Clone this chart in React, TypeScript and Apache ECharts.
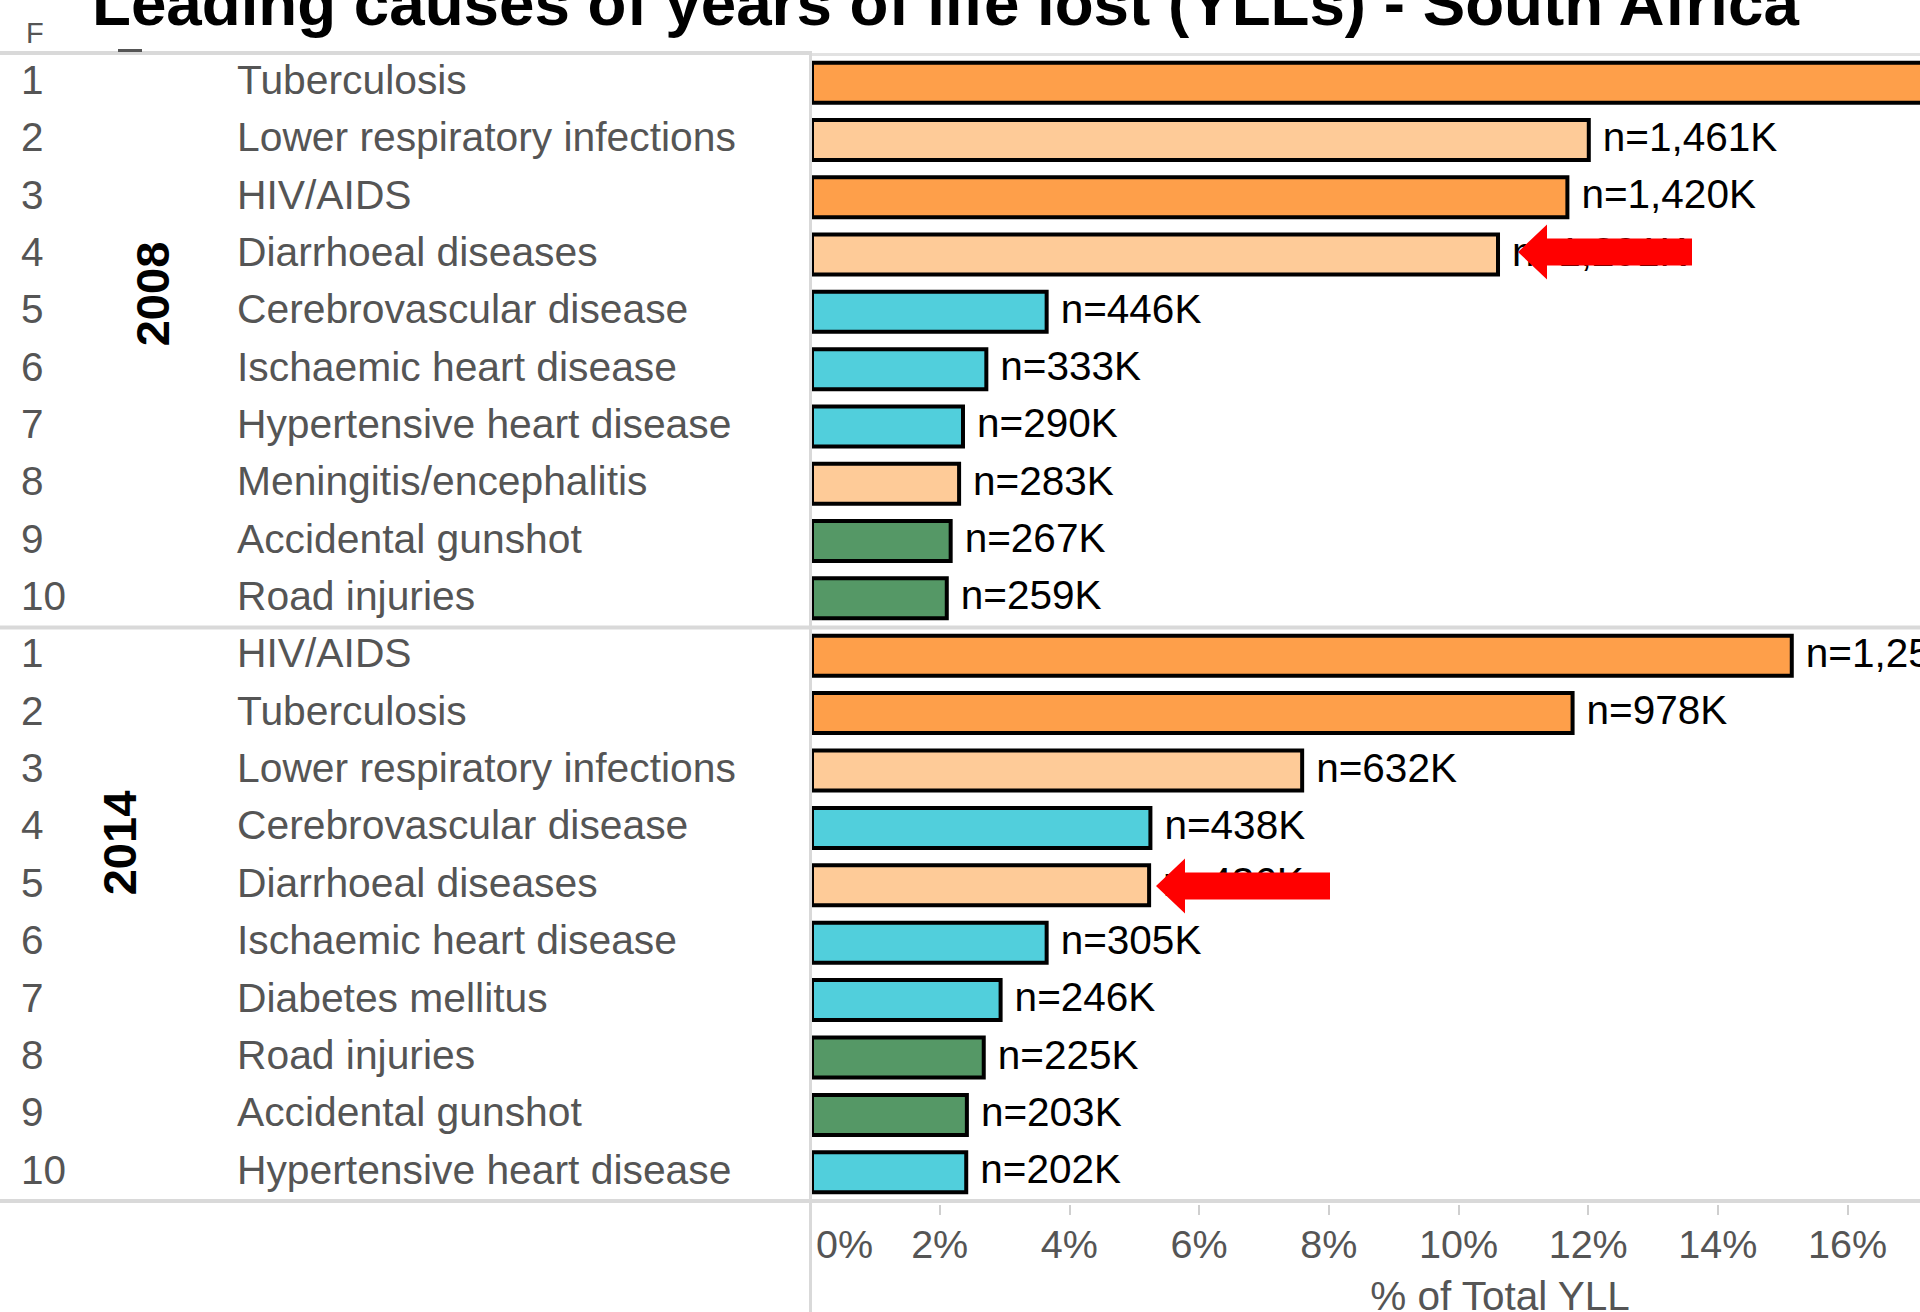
import React, { useEffect, useRef } from "react";
import * as echarts from "echarts";

const titleText = "Leading causes of years of life lost (YLLs) - South Africa";
const ranks = ["1", "2", "3", "4", "5", "6", "7", "8", "9", "10"];

const causes2008 = [
  "Tuberculosis",
  "Lower respiratory infections",
  "HIV/AIDS",
  "Diarrhoeal diseases",
  "Cerebrovascular disease",
  "Ischaemic heart disease",
  "Hypertensive heart disease",
  "Meningitis/encephalitis",
  "Accidental gunshot",
  "Road injuries",
];
const pct2008 = [18.9, 12.04, 11.71, 10.64, 3.68, 2.75, 2.39, 2.33, 2.2, 2.14];
const n2008 = ["n=2,293K", "n=1,461K", "n=1,420K", "n=1,291K", "n=446K", "n=333K", "n=290K", "n=283K", "n=267K", "n=259K"];

const causes2014 = [
  "HIV/AIDS",
  "Tuberculosis",
  "Lower respiratory infections",
  "Cerebrovascular disease",
  "Diarrhoeal diseases",
  "Ischaemic heart disease",
  "Diabetes mellitus",
  "Road injuries",
  "Accidental gunshot",
  "Hypertensive heart disease",
];
const pct2014 = [15.17, 11.79, 7.62, 5.28, 5.26, 3.68, 2.97, 2.71, 2.45, 2.44];
const n2014 = ["n=1,258K", "n=978K", "n=632K", "n=438K", "n=436K", "n=305K", "n=246K", "n=225K", "n=203K", "n=202K"];

const years = ["2008", "2014"];
const axisName = "% of Total YLL";

const darkOrangeCauses = ["Tuberculosis", "HIV/AIDS"];
const lightOrangeCauses = ["Lower respiratory infections", "Diarrhoeal diseases", "Meningitis/encephalitis"];
const greenCauses = ["Accidental gunshot", "Road injuries"];

const DARK_ORANGE = "#FE9F4A";
const LIGHT_ORANGE = "#FECB98";
const CYAN = "#51CFDC";
const GREEN = "#559866";

const colorOf = (c: string) =>
  darkOrangeCauses.includes(c)
    ? DARK_ORANGE
    : lightOrangeCauses.includes(c)
    ? LIGHT_ORANGE
    : greenCauses.includes(c)
    ? GREEN
    : CYAN;

export default function App() {
  const ref = useRef<HTMLDivElement>(null);

  useEffect(() => {
    const chart = echarts.init(ref.current!, null, { renderer: "svg" });
    const font = "'Liberation Sans', Arial, sans-serif";
    const AX_MAX = 21.28;
    const PX_PER_PCT = 64.85;
    const gridLeft = 810;
    const gridWidth = AX_MAX * PX_PER_PCT;

    const yAxisFor = (gridIndex: number, data: string[]) => ({
      type: "category",
      gridIndex,
      data,
      inverse: true,
      axisLine: { show: false },
      axisTick: { show: false },
      axisLabel: {
        interval: 0,
        align: "left",
        margin: 789,
        padding: [0, 0, 5, 0],
        formatter: (v: string, i: number) => `{r|${ranks[i]}}{n|${v}}`,
        rich: {
          r: { width: 216, fontSize: 40.5, color: "#555555", fontFamily: font },
          n: { fontSize: 40.8, color: "#555555", fontFamily: font },
        },
      },
    });

    const seriesFor = (idx: number, causes: string[], vals: number[], labels: string[]) => ({
      type: "bar",
      xAxisIndex: idx,
      yAxisIndex: idx,
      barWidth: 44,
      data: vals.map((v, i) => ({ value: v, itemStyle: { color: colorOf(causes[i]) } })),
      itemStyle: { borderColor: "#000", borderWidth: 4 },
      label: {
        show: true,
        position: "right",
        distance: 12,
        offset: [0, -3],
        fontSize: 40.5,
        color: "#000",
        fontFamily: font,
        formatter: (p: any) => labels[p.dataIndex],
      },
    });

    const arrow = (tipX: number, tipY: number) => {
      const headLen = 29;
      const headHalf = 27.5;
      const shaftHalf = 13.5;
      const len = 174;
      return {
        type: "polygon",
        z: 200,
        shape: {
          points: [
            [tipX, tipY],
            [tipX + headLen, tipY - headHalf],
            [tipX + headLen, tipY - shaftHalf],
            [tipX + len, tipY - shaftHalf],
            [tipX + len, tipY + shaftHalf],
            [tipX + headLen, tipY + shaftHalf],
            [tipX + headLen, tipY + headHalf],
          ],
        },
        style: { fill: "#FF0000" },
      };
    };

    const option: any = {
      animation: false,
      backgroundColor: "#ffffff",
      title: {
        text: titleText,
        left: 92,
        top: -30,
        padding: 0,
        textStyle: {
          fontSize: 63.7,
          fontWeight: "bold",
          color: "#000",
          fontFamily: font,
          lineHeight: 64,
        },
      },
      grid: [
        { left: gridLeft, top: 54, height: 573, width: gridWidth, outerBoundsMode: "none", containLabel: false },
        { left: gridLeft, top: 627, height: 574, width: gridWidth, outerBoundsMode: "none", containLabel: false },
      ],
      xAxis: [
        { type: "value", gridIndex: 0, min: 0, max: AX_MAX, interval: 2, show: false },
        {
          type: "value",
          gridIndex: 1,
          min: 0,
          max: AX_MAX,
          interval: 2,
          position: "bottom",
          offset: 4,
          axisLine: { show: false },
          axisTick: { show: true, length: 10, lineStyle: { color: "#cfcfcf", width: 2 } },
          splitLine: { show: false },
          axisLabel: {
            formatter: (v: number) => (v === 0 ? `{z|${v}%}` : `${v}%`),
            rich: { z: { padding: [0, 0, 0, 6], fontSize: 39.5, color: "#555555", fontFamily: font } },
            fontSize: 39.5,
            color: "#555555",
            fontFamily: font,
            margin: 19,
            alignMinLabel: "left",
            showMaxLabel: false,
          },
          name: axisName,
          nameLocation: "middle",
          nameGap: 70,
          nameTextStyle: { fontSize: 40.5, color: "#555555", fontFamily: font },
        },
      ],
      yAxis: [yAxisFor(0, causes2008), yAxisFor(1, causes2014)],
      series: [seriesFor(0, causes2008, pct2008, n2008), seriesFor(1, causes2014, pct2014, n2014)],
      graphic: [
        { type: "line", z: 150, shape: { x1: 0, y1: 53, x2: 810, y2: 53 }, style: { stroke: "#d9d9d9", lineWidth: 4 } },
        { type: "line", z: 150, shape: { x1: 810, y1: 54.5, x2: 1920, y2: 54.5 }, style: { stroke: "#e2e2e2", lineWidth: 3 } },
        { type: "line", z: 150, shape: { x1: 0, y1: 627.5, x2: 1920, y2: 627.5 }, style: { stroke: "#d9d9d9", lineWidth: 4 } },
        { type: "line", z: 150, shape: { x1: 0, y1: 1201, x2: 1920, y2: 1201 }, style: { stroke: "#d9d9d9", lineWidth: 4 } },
        { type: "line", z: 160, shape: { x1: 810.5, y1: 51, x2: 810.5, y2: 1312 }, style: { stroke: "#d9d9d9", lineWidth: 3 } },
        {
          type: "text",
          z: 150,
          x: 26,
          y: 33,
          style: { text: "F", fontSize: 29, fill: "#555555", fontFamily: font, verticalAlign: "middle" },
        },
        { type: "rect", z: 150, shape: { x: 118, y: 49, width: 24, height: 3 }, style: { fill: "#555555" } },
        {
          type: "text",
          z: 150,
          x: 152,
          y: 294,
          rotation: Math.PI / 2,
          style: {
            text: years[0],
            fontSize: 47,
            fontWeight: "bold",
            fill: "#000",
            fontFamily: font,
            align: "center",
            verticalAlign: "middle",
          },
        },
        {
          type: "text",
          z: 150,
          x: 119,
          y: 843,
          rotation: Math.PI / 2,
          style: {
            text: years[1],
            fontSize: 47,
            fontWeight: "bold",
            fill: "#000",
            fontFamily: font,
            align: "center",
            verticalAlign: "middle",
          },
        },
        arrow(1518, 252),
        arrow(1156, 886),
      ],
    };

    chart.setOption(option);
    return () => chart.dispose();
  }, []);

  return (
    <div
      ref={ref}
      style={{
        position: "fixed",
        left: 0,
        top: 0,
        width: 1920,
        height: 1312,
        overflow: "hidden",
        background: "#fff",
      }}
    />
  );
}
